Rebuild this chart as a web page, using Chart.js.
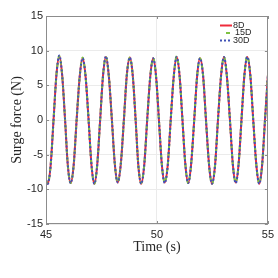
<!DOCTYPE html>
<html>
<head>
<meta charset="utf-8">
<script src="https://cdn.jsdelivr.net/npm/chart.js@4.4.0/dist/chart.umd.min.js"></script>
<style>
  html, body { margin: 0; padding: 0; background: #ffffff; }
</style>
</head>
<body>
<canvas id="surgeChart" width="278" height="278"></canvas>
<script>
// Tempo (s)
const timeData = [45.00, 45.08, 45.21, 45.34, 45.47, 45.60, 45.73, 45.86, 45.98, 46.11,
    46.25, 46.38, 46.52, 46.65, 46.78, 46.92, 47.05, 47.18, 47.31, 47.44, 47.57, 47.70,
    47.83, 47.97, 48.10, 48.23, 48.37, 48.51, 48.64, 48.78, 48.91, 49.04, 49.16, 49.29,
    49.43, 49.56, 49.70, 49.83, 49.96, 50.09, 50.22, 50.35, 50.49, 50.62, 50.76, 50.89,
    51.02, 51.15, 51.28, 51.41, 51.54, 51.68, 51.81, 51.94, 52.08, 52.21, 52.35, 52.48,
    52.62, 52.75, 52.89, 53.02, 53.15, 53.29, 53.42, 53.55, 53.68, 53.81, 53.94, 54.07,
    54.21, 54.34, 54.48, 54.61, 54.74, 54.87, 55.00];

// Força de surge (N) para cada distância
const force8D = [-8.7, -9.2, -6.5, 0.0, 6.5, 9.2, 6.4, 0.0, -6.4, -9.1,
    -6.4, 0.0, 6.3, 8.9, 6.4, 0.0, -6.5, -9.2, -6.4, 0.0, 6.4, 9.1,
    6.4, 0.0, -6.3, -9.0, -6.4, 0.0, 6.4, 9.0, 6.4, 0.0, -6.5, -9.2,
    -6.4, 0.0, 6.3, 8.9, 6.3, 0.0, -6.4, -9.0, -6.4, 0.0, 6.4, 9.1,
    6.4, 0.0, -6.4, -9.1, -6.4, 0.0, 6.3, 8.9, 6.4, 0.0, -6.5, -9.2,
    -6.5, 0.0, 6.4, 9.1, 6.4, 0.0, -6.4, -9.0, -6.4, 0.0, 6.4, 9.1,
    6.4, 0.0, -6.5, -9.2, -6.5, 0.0, 6.4];
const force15D = [-8.7, -9.1, -6.5, 0.0, 6.5, 9.2, 6.4, 0.0, -6.4, -9.1,
    -6.4, 0.0, 6.3, 9.0, 6.4, 0.0, -6.5, -9.2, -6.4, 0.0, 6.4, 9.1,
    6.4, 0.0, -6.3, -9.0, -6.4, 0.0, 6.4, 9.0, 6.4, 0.0, -6.5, -9.1,
    -6.4, 0.0, 6.3, 8.9, 6.3, 0.0, -6.4, -9.0, -6.4, 0.0, 6.4, 9.2,
    6.4, 0.0, -6.4, -9.1, -6.4, 0.0, 6.3, 8.9, 6.4, 0.0, -6.5, -9.2,
    -6.5, 0.0, 6.4, 9.1, 6.4, 0.0, -6.4, -9.0, -6.4, 0.0, 6.4, 9.2,
    6.4, 0.0, -6.5, -9.1, -6.5, 0.0, 6.4];
const force30D = [-8.6, -9.2, -6.5, 0.0, 6.5, 9.3, 6.4, 0.0, -6.4, -9.1,
    -6.4, 0.0, 6.3, 8.9, 6.4, 0.0, -6.5, -9.2, -6.4, 0.0, 6.4, 9.2,
    6.4, 0.0, -6.3, -9.0, -6.4, 0.0, 6.4, 9.0, 6.4, 0.0, -6.5, -9.2,
    -6.4, 0.0, 6.3, 8.9, 6.3, 0.0, -6.4, -9.1, -6.4, 0.0, 6.4, 9.1,
    6.4, 0.0, -6.4, -9.1, -6.4, 0.0, 6.3, 8.9, 6.4, 0.0, -6.5, -9.2,
    -6.5, 0.0, 6.4, 9.1, 6.4, 0.0, -6.4, -9.1, -6.4, 0.0, 6.4, 9.1,
    6.4, 0.0, -6.5, -9.2, -6.5, 0.0, 6.5];

const seriesLabels = ["8D", "15D", "30D"];
const xTicks = [45, 50, 55];
const yTicks = [-15, -10, -5, 0, 5, 10, 15];

function toPoints(values) {
    return timeData.map((t, i) => ({ x: t, y: values[i] }));
}

// Moldura estilo MATLAB, com marcas para dentro e legenda
const frameAndLegend = {
    id: "frameAndLegend",
    afterDatasetsDraw(chart) {
        const ctx = chart.ctx;
        const a = chart.chartArea;
        const xs = chart.scales.x;
        const ys = chart.scales.y;
        ctx.save();
        ctx.strokeStyle = "#8c8c8c";
        ctx.lineWidth = 1;
        ctx.setLineDash([]);
        ctx.strokeRect(Math.round(a.left) + 0.5, Math.round(a.top) + 0.5,
            Math.round(a.right - a.left) - 1, Math.round(a.bottom - a.top) - 1);
        ctx.beginPath();
        xTicks.forEach(v => {
            const px = Math.round(xs.getPixelForValue(v)) + 0.5;
            ctx.moveTo(px, a.bottom); ctx.lineTo(px, a.bottom - 3);
            ctx.moveTo(px, a.top); ctx.lineTo(px, a.top + 3);
        });
        yTicks.forEach(v => {
            const py = Math.round(ys.getPixelForValue(v)) + 0.5;
            ctx.moveTo(a.left, py); ctx.lineTo(a.left + 3, py);
            ctx.moveTo(a.right, py); ctx.lineTo(a.right - 3, py);
        });
        ctx.stroke();

        // legenda (o tracejado mostra só um traço curto, como no MATLAB)
        const rows = [25.5, 33, 40.5];
        const sampleFrom = [220, 226, 220];
        const sampleTo = [232, 230, 232];
        ctx.font = "9px 'Liberation Sans', Arial, sans-serif";
        ctx.textBaseline = "middle";
        ctx.fillStyle = "#262626";
        chart.data.datasets.forEach((ds, i) => {
            const y = rows[i];
            ctx.strokeStyle = ds.borderColor;
            ctx.lineWidth = 2;
            ctx.setLineDash(i === 1 ? [] : (ds.borderDash || []));
            ctx.beginPath();
            ctx.moveTo(sampleFrom[i], y);
            ctx.lineTo(sampleTo[i], y);
            ctx.stroke();
            ctx.fillText(ds.label, i === 1 ? 235 : 233, y);
        });
        ctx.restore();
    }
};

const ctx = document.getElementById("surgeChart").getContext("2d");
new Chart(ctx, {
    type: "line",
    data: {
        datasets: [
            {
                label: seriesLabels[0],
                data: toPoints(force8D),
                borderColor: "#ee2b3b",
                borderWidth: 2,
                order: 3
            },
            {
                label: seriesLabels[1],
                data: toPoints(force15D),
                borderColor: "#7dc142",
                borderWidth: 2,
                borderDash: [4, 4],
                order: 2
            },
            {
                label: seriesLabels[2],
                data: toPoints(force30D),
                borderColor: "#3f51b5",
                borderWidth: 2,
                borderDash: [2, 2],
                order: 1
            }
        ]
    },
    options: {
        responsive: false,
        animation: false,
        devicePixelRatio: 1,
        layout: { padding: { top: 16, right: 10, left: 0, bottom: 0 } },
        elements: {
            point: { radius: 0 },
            line: { cubicInterpolationMode: "monotone", fill: false }
        },
        scales: {
            x: {
                type: "linear",
                min: 45,
                max: 55,
                afterFit: s => { s.height = 54; },
                afterBuildTicks: s => { s.ticks = xTicks.map(v => ({ value: v })); },
                grid: { color: "#ebebeb", drawTicks: false },
                border: { display: false },
                ticks: {
                    padding: 4,
                    color: "#262626",
                    font: { family: "'Liberation Sans', Arial, sans-serif", size: 11 }
                },
                title: {
                    display: true,
                    text: "Time (s)",
                    color: "#262626",
                    padding: { top: 0, bottom: 22 },
                    font: { family: "'Liberation Serif', 'Times New Roman', serif", size: 14 }
                }
            },
            y: {
                min: -15,
                max: 15,
                afterFit: s => { s.width = 46; },
                afterBuildTicks: s => { s.ticks = yTicks.map(v => ({ value: v })); },
                grid: { color: "#ebebeb", drawTicks: false },
                border: { display: false },
                ticks: {
                    padding: 3,
                    color: "#262626",
                    font: { family: "'Liberation Sans', Arial, sans-serif", size: 11 }
                },
                title: {
                    display: true,
                    text: "Surge force (N)",
                    color: "#262626",
                    padding: { top: 9, bottom: 0 },
                    font: { family: "'Liberation Serif', 'Times New Roman', serif", size: 14 }
                }
            }
        },
        plugins: {
            legend: { display: false },
            tooltip: { enabled: false }
        }
    },
    plugins: [frameAndLegend]
});
</script>
</body>
</html>
